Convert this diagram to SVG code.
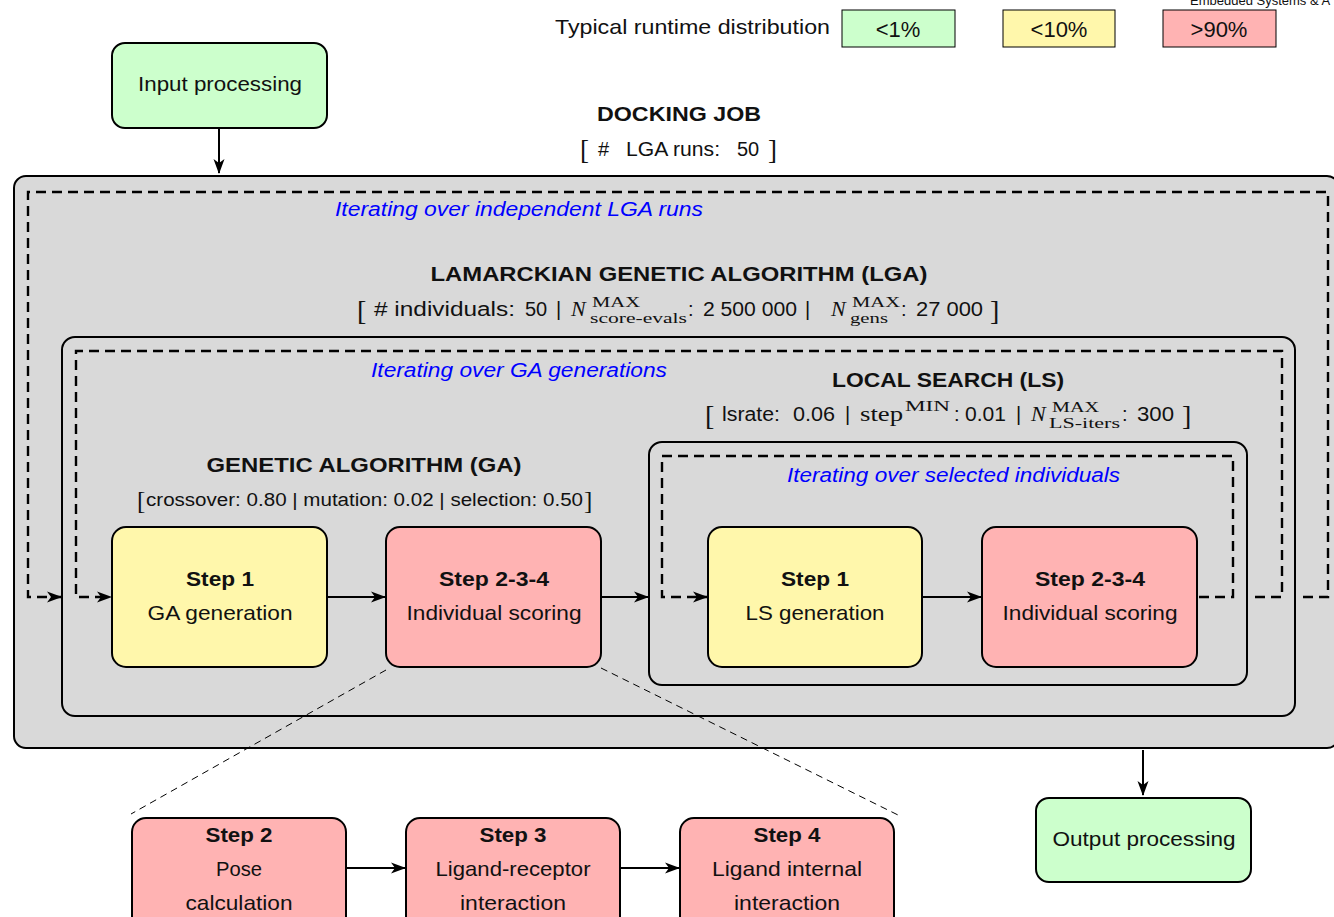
<svg xmlns="http://www.w3.org/2000/svg" width="1334" height="917" viewBox="0 0 1334 917">
  <defs>
    <marker id="arr" viewBox="0 0 15 12" refX="14" refY="6" markerWidth="15" markerHeight="12" markerUnits="userSpaceOnUse" orient="auto">
      <path d="M0,0.5 L15,6 L0,11.5 L4,6 Z" fill="#000"/>
    </marker>
    <style>
      .sans { font-family: "Liberation Sans", "DejaVu Sans", sans-serif; fill: #111; }
      .serif { font-family: "Liberation Serif", "DejaVu Serif", serif; fill: #111; }
      .title { font-family: "Liberation Sans", "DejaVu Sans", sans-serif; font-weight: bold; font-size: 20px; fill: #111; }
      .iter { font-family: "Liberation Sans", "DejaVu Sans", sans-serif; font-style: italic; font-size: 20px; fill: #0000ff; }
      .lbl { font-family: "Liberation Sans", "DejaVu Sans", sans-serif; font-size: 21px; fill: #111; text-anchor: middle; }
      .lblb { font-family: "Liberation Sans", "DejaVu Sans", sans-serif; font-size: 21px; font-weight: bold; fill: #111; text-anchor: middle; }
      .node { stroke: #000; stroke-width: 2; }
      .green { fill: #ccffcc; }
      .yellow { fill: #fff7ab; }
      .red { fill: #ffb3b3; }
      .frame { fill: #d9d9d9; stroke: #000; stroke-width: 2; }
      .box { fill: none; stroke: #000; stroke-width: 2; }
      .loop { fill: none; stroke: #000; stroke-width: 2.4; stroke-dasharray: 10 6; }
      .solid { fill: none; stroke: #000; stroke-width: 2; }
      .zoomline { fill: none; stroke: #000; stroke-width: 1; stroke-dasharray: 7 5; }
      .legend { stroke: #000; stroke-width: 1; }
    </style>
  </defs>

  <!-- header watermark -->
  <text x="1190" y="5" class="sans" font-size="13" fill="#333">Embedded Systems &amp; A</text>

  <!-- runtime legend -->
  <g id="legend">
    <text x="555" y="34" class="sans" font-size="21" textLength="275" lengthAdjust="spacingAndGlyphs">Typical runtime distribution</text>
    <rect x="842" y="10" width="113" height="37" class="legend green"/>
    <text x="898" y="37" class="sans" font-size="22" text-anchor="middle">&lt;1%</text>
    <rect x="1003" y="10" width="112" height="37" class="legend yellow"/>
    <text x="1059" y="37" class="sans" font-size="22" text-anchor="middle">&lt;10%</text>
    <rect x="1163" y="10" width="113" height="37" class="legend red"/>
    <text x="1219" y="37" class="sans" font-size="22" text-anchor="middle">&gt;90%</text>
  </g>

  <!-- input node -->
  <g id="input">
    <rect x="112" y="43" width="215" height="85" rx="13" class="node green"/>
    <text x="220" y="91" class="lbl" textLength="164" lengthAdjust="spacingAndGlyphs">Input processing</text>
  </g>

  <!-- docking job header -->
  <g id="docking-header">
    <text x="679" y="121" class="title" text-anchor="middle" textLength="164" lengthAdjust="spacingAndGlyphs">DOCKING JOB</text>
    <text x="580" y="159" class="serif" font-size="27">[</text>
    <text x="598" y="156" class="sans" font-size="20">#</text>
    <text x="626" y="156" class="sans" font-size="20" textLength="94" lengthAdjust="spacingAndGlyphs">LGA runs:</text>
    <text x="737" y="156" class="sans" font-size="20">50</text>
    <text x="768" y="159" class="serif" font-size="27">]</text>
  </g>

  <!-- docking job frame -->
  <g id="docking-job">
    <rect x="14" y="176" width="1325" height="572" rx="12" class="frame"/>
    <text x="335" y="216" class="iter" textLength="368" lengthAdjust="spacingAndGlyphs">Iterating over independent LGA runs</text>
    <text x="679" y="281" class="title" text-anchor="middle" textLength="497" lengthAdjust="spacingAndGlyphs">LAMARCKIAN GENETIC ALGORITHM (LGA)</text>
    <!-- LGA parameters -->
    <text x="357" y="320" class="serif" font-size="28">[</text>
    <text x="374" y="316" class="sans" font-size="20" textLength="141" lengthAdjust="spacingAndGlyphs"># individuals:</text>
    <text x="525" y="316" class="sans" font-size="20">50</text>
    <text x="556" y="316" class="sans" font-size="20">|</text>
    <text x="571" y="316" class="serif" font-size="22" font-style="italic">N</text>
    <text x="592" y="307" class="serif" font-size="15" textLength="48" lengthAdjust="spacingAndGlyphs">MAX</text>
    <text x="590" y="323" class="serif" font-size="15" textLength="97" lengthAdjust="spacingAndGlyphs">score-evals</text>
    <text x="688" y="316" class="sans" font-size="20">:</text>
    <text x="703" y="316" class="sans" font-size="20" textLength="94" lengthAdjust="spacingAndGlyphs">2 500 000</text>
    <text x="805" y="316" class="sans" font-size="20">|</text>
    <text x="831" y="316" class="serif" font-size="22" font-style="italic">N</text>
    <text x="852" y="307" class="serif" font-size="15" textLength="48" lengthAdjust="spacingAndGlyphs">MAX</text>
    <text x="850" y="323" class="serif" font-size="15" textLength="38" lengthAdjust="spacingAndGlyphs">gens</text>
    <text x="901" y="316" class="sans" font-size="20">:</text>
    <text x="916" y="316" class="sans" font-size="20" textLength="67" lengthAdjust="spacingAndGlyphs">27 000</text>
    <text x="990" y="320" class="serif" font-size="28">]</text>
  </g>

  <!-- LGA frame -->
  <g id="lga">
    <rect x="62" y="337" width="1233" height="379" rx="13" class="box"/>
    <text x="371" y="377" class="iter" textLength="296" lengthAdjust="spacingAndGlyphs">Iterating over GA generations</text>
  </g>

  <!-- GA header -->
  <g id="ga-header">
    <text x="364" y="472" class="title" text-anchor="middle" textLength="315" lengthAdjust="spacingAndGlyphs">GENETIC ALGORITHM (GA)</text>
    <text x="137" y="509" class="serif" font-size="25">[</text>
    <text x="146" y="506" class="sans" font-size="18" textLength="437" lengthAdjust="spacingAndGlyphs">crossover: 0.80 | mutation: 0.02 | selection: 0.50</text>
    <text x="584" y="509" class="serif" font-size="25">]</text>
  </g>

  <!-- LS header -->
  <g id="ls-header">
    <text x="948" y="387" class="title" text-anchor="middle" textLength="232" lengthAdjust="spacingAndGlyphs">LOCAL SEARCH (LS)</text>
    <text x="705" y="425" class="serif" font-size="28">[</text>
    <text x="722" y="421" class="sans" font-size="20" textLength="58" lengthAdjust="spacingAndGlyphs">lsrate:</text>
    <text x="793" y="421" class="sans" font-size="20" textLength="42" lengthAdjust="spacingAndGlyphs">0.06</text>
    <text x="845" y="421" class="sans" font-size="20">|</text>
    <text x="860" y="421" class="serif" font-size="21" textLength="43" lengthAdjust="spacingAndGlyphs">step</text>
    <text x="905" y="411" class="serif" font-size="15" textLength="45" lengthAdjust="spacingAndGlyphs">MIN</text>
    <text x="954" y="421" class="sans" font-size="20">:</text>
    <text x="965" y="421" class="sans" font-size="20" textLength="41" lengthAdjust="spacingAndGlyphs">0.01</text>
    <text x="1016" y="421" class="sans" font-size="20">|</text>
    <text x="1031" y="421" class="serif" font-size="22" font-style="italic">N</text>
    <text x="1052" y="412" class="serif" font-size="15" textLength="47" lengthAdjust="spacingAndGlyphs">MAX</text>
    <text x="1049" y="428" class="serif" font-size="15" textLength="71" lengthAdjust="spacingAndGlyphs">LS-iters</text>
    <text x="1122" y="421" class="sans" font-size="20">:</text>
    <text x="1137" y="421" class="sans" font-size="20" textLength="37" lengthAdjust="spacingAndGlyphs">300</text>
    <text x="1182" y="425" class="serif" font-size="28">]</text>
  </g>

  <!-- LS frame -->
  <g id="ls">
    <rect x="649" y="442" width="598" height="243" rx="13" class="box"/>
    <text x="787" y="482" class="iter" textLength="333" lengthAdjust="spacingAndGlyphs">Iterating over selected individuals</text>
  </g>

  <!-- GA nodes -->
  <g id="ga-step1">
    <rect x="112" y="527" width="215" height="140" rx="14" class="node yellow"/>
    <text x="220" y="586" class="lblb" textLength="68" lengthAdjust="spacingAndGlyphs">Step 1</text>
    <text x="220" y="620" class="lbl" textLength="145" lengthAdjust="spacingAndGlyphs">GA generation</text>
  </g>
  <g id="ga-step234">
    <rect x="386" y="527" width="215" height="140" rx="14" class="node red"/>
    <text x="494" y="586" class="lblb" textLength="110" lengthAdjust="spacingAndGlyphs">Step 2-3-4</text>
    <text x="494" y="620" class="lbl" textLength="175" lengthAdjust="spacingAndGlyphs">Individual scoring</text>
  </g>

  <!-- LS nodes -->
  <g id="ls-step1">
    <rect x="708" y="527" width="214" height="140" rx="14" class="node yellow"/>
    <text x="815" y="586" class="lblb" textLength="68" lengthAdjust="spacingAndGlyphs">Step 1</text>
    <text x="815" y="620" class="lbl" textLength="139" lengthAdjust="spacingAndGlyphs">LS generation</text>
  </g>
  <g id="ls-step234">
    <rect x="982" y="527" width="215" height="140" rx="14" class="node red"/>
    <text x="1090" y="586" class="lblb" textLength="110" lengthAdjust="spacingAndGlyphs">Step 2-3-4</text>
    <text x="1090" y="620" class="lbl" textLength="175" lengthAdjust="spacingAndGlyphs">Individual scoring</text>
  </g>

  <!-- output node -->
  <g id="output">
    <rect x="1036" y="798" width="215" height="84" rx="13" class="node green"/>
    <text x="1144" y="846" class="lbl" textLength="183" lengthAdjust="spacingAndGlyphs">Output processing</text>
  </g>

  <!-- scoring breakdown nodes -->
  <g id="step2">
    <rect x="132" y="818" width="214" height="130" rx="14" class="node red"/>
    <text x="239" y="842" class="lblb" textLength="67" lengthAdjust="spacingAndGlyphs">Step 2</text>
    <text x="239" y="876" class="lbl" textLength="46" lengthAdjust="spacingAndGlyphs">Pose</text>
    <text x="239" y="910" class="lbl" textLength="107" lengthAdjust="spacingAndGlyphs">calculation</text>
  </g>
  <g id="step3">
    <rect x="406" y="818" width="214" height="130" rx="14" class="node red"/>
    <text x="513" y="842" class="lblb" textLength="67" lengthAdjust="spacingAndGlyphs">Step 3</text>
    <text x="513" y="876" class="lbl" textLength="155" lengthAdjust="spacingAndGlyphs">Ligand-receptor</text>
    <text x="513" y="910" class="lbl" textLength="106" lengthAdjust="spacingAndGlyphs">interaction</text>
  </g>
  <g id="step4">
    <rect x="680" y="818" width="214" height="130" rx="14" class="node red"/>
    <text x="787" y="842" class="lblb" textLength="67" lengthAdjust="spacingAndGlyphs">Step 4</text>
    <text x="787" y="876" class="lbl" textLength="150" lengthAdjust="spacingAndGlyphs">Ligand internal</text>
    <text x="787" y="910" class="lbl" textLength="106" lengthAdjust="spacingAndGlyphs">interaction</text>
  </g>

  <!-- connectors -->
  <g id="connectors">
    <!-- iteration loops -->
    <path d="M1303,597 H1328 V192 H28 V597 H61" class="loop" marker-end="url(#arr)"/>
    <path d="M1255,597 H1282 V351 H76 V597 H111" class="loop" marker-end="url(#arr)"/>
    <path d="M1199,597 H1233 V456 H662 V597 H707" class="loop" marker-end="url(#arr)"/>
    <!-- main flow -->
    <path d="M219,129 V173" class="solid" marker-end="url(#arr)"/>
    <path d="M328,597 H385" class="solid" marker-end="url(#arr)"/>
    <path d="M602,597 H648" class="solid" marker-end="url(#arr)"/>
    <path d="M923,597 H981" class="solid" marker-end="url(#arr)"/>
    <path d="M1143,750 V795" class="solid" marker-end="url(#arr)"/>
    <path d="M347,868 H405" class="solid" marker-end="url(#arr)"/>
    <path d="M621,868 H679" class="solid" marker-end="url(#arr)"/>
    <!-- scoring expansion guides -->
    <path d="M386,670 L131,814" class="zoomline"/>
    <path d="M601,668 L898,815" class="zoomline"/>
  </g>
</svg>
